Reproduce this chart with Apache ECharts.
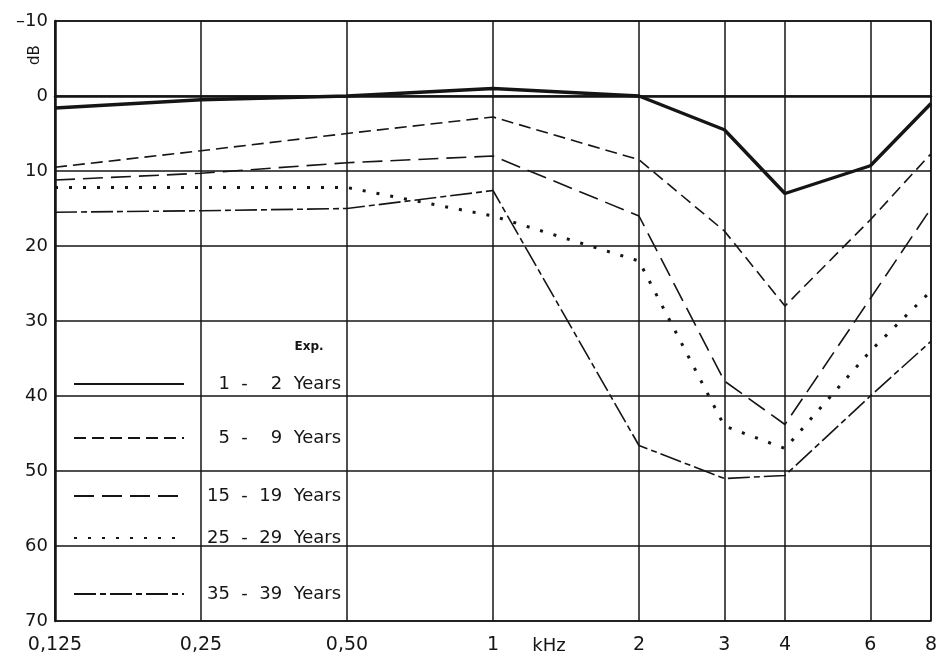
<!DOCTYPE html>
<html>
<head>
<meta charset="utf-8">
<title>Hearing threshold by years of exposure</title>
<script src="https://cdn.jsdelivr.net/npm/echarts@6/dist/echarts.min.js"></script>
<style>
  html, body { margin: 0; padding: 0; background: #ffffff; }
  #chart { width: 940px; height: 655px; }
</style>
</head>
<body>
<div id="chart"></div>
<script>
// Test frequencies (kHz) and their printed labels
const frequencies = [0.125, 0.25, 0.5, 1, 2, 3, 4, 6, 8];
const frequencyLabels = ['0,125', '0,25', '0,50', '1', '2', '3', '4', '6', '8'];

// Hearing level axis (dB), drawn downward
const levelTicks = [-10, 0, 10, 20, 30, 40, 50, 60, 70];
const levelLabels = ['\u201310', '0', '10', '20', '30', '40', '50', '60', '70'];

// Exposure groups (figure spaces keep the single digits in the units column)
const groupNames = [
  '\u20071  -  \u20072  Years',
  '\u20075  -  \u20079  Years',
  '15  -  19  Years',
  '25  -  29  Years',
  '35  -  39  Years'
];

// Mean threshold (dB) per frequency for each exposure group
const exposure1to2 = [1.6, 0.5, 0, -1, 0, 4.5, 13, 9.3, 1];
const exposure5to9 = [9.5, 7.3, 5, 2.8, 8.5, 18, 28, 16.5, 7.7];
const exposure15to19 = [11.2, 10.3, 8.9, 8, 16, 38, 43.8, 27, 15];
const exposure25to29 = [12.2, 12.2, 12.2, 16, 22, 44, 47, 34, 26];
const exposure35to39 = [15.5, 15.3, 15, 12.6, 46.6, 51, 50.6, 40, 32.7];

const groupValues = [exposure1to2, exposure5to9, exposure15to19, exposure25to29, exposure35to39];

const FONT = '"DejaVu Sans", "Liberation Sans", Arial, sans-serif';
const INK = '#151515';

// line look for each group
const groupLineStyles = [
  { width: 3.4, type: 'solid' },
  { width: 1.6, type: [12, 6] },
  { width: 1.6, type: [20, 8] },
  { width: 3, type: [3, 11], cap: 'butt' },
  { width: 1.6, type: [22, 4, 6, 4] }
];

// vertical centre of each legend row
const legendRowY = [383, 437, 495, 537, 593];

function labelFor(list, labels, v) {
  let best = 0;
  for (let i = 0; i < list.length; i++) {
    if (Math.abs(list[i] - v) < Math.abs(list[best] - v)) best = i;
  }
  return labels[best];
}

const series = groupNames.map((name, k) => ({
  name: name,
  type: 'line',
  symbol: 'none',
  silent: true,
  animation: false,
  lineStyle: Object.assign({ color: INK }, groupLineStyles[k]),
  itemStyle: { color: INK },
  data: frequencies.map((f, i) => [f, groupValues[k][i]])
}));

const legends = groupNames.map((name, k) => ({
  data: [name],
  left: 73,
  top: legendRowY[k] - 8,
  orient: 'vertical',
  padding: 0,
  itemWidth: 110,
  itemHeight: 16,
  selectedMode: false,
  itemStyle: { opacity: 0 },
  textStyle: {
    fontFamily: FONT,
    fontSize: 18,
    color: INK,
    padding: [0, 0, 0, 18]
  }
}));

const chart = echarts.init(document.getElementById('chart'), null, { renderer: 'canvas' });

chart.setOption({
  backgroundColor: '#ffffff',
  animation: false,
  grid: {
    left: 55, right: 5, top: 21, bottom: 34,
    show: true,
    borderColor: INK,
    borderWidth: 1.5
  },
  legend: legends,
  xAxis: {
    type: 'log',
    logBase: 2,
    min: 0.125,
    max: 8,
    axisLine: { show: true, lineStyle: { color: INK, width: 2.5 } },
    axisTick: { show: false, customValues: frequencies },
    axisLabel: {
      customValues: frequencies,
      margin: 15,
      fontFamily: FONT,
      fontSize: 19,
      color: INK,
      formatter: v => labelFor(frequencies, frequencyLabels, v)
    },
    splitLine: { show: true, lineStyle: { color: INK, width: 1.5 } }
  },
  yAxis: {
    type: 'value',
    inverse: true,
    min: -10,
    max: 70,
    interval: 10,
    axisLine: { show: true, lineStyle: { color: INK, width: 2.5 } },
    axisTick: { show: false },
    axisLabel: {
      margin: 7,
      fontFamily: FONT,
      fontSize: 18,
      color: INK,
      formatter: v => labelFor(levelTicks, levelLabels, v)
    },
    splitLine: { show: true, lineStyle: { color: INK, width: 1.5 } }
  },
  graphic: [
    {
      type: 'text',
      x: 35, y: 55,
      rotation: Math.PI / 2,
      style: { text: 'dB', fontFamily: FONT, fontSize: 15, fill: INK, align: 'center', verticalAlign: 'middle' }
    },
    {
      type: 'text',
      x: 549, y: 646,
      style: { text: 'kHz', fontFamily: FONT, fontSize: 18, fill: INK, align: 'center', verticalAlign: 'middle' }
    },
    {
      type: 'text',
      x: 309, y: 347,
      style: { text: 'Exp.', fontFamily: FONT, fontSize: 12, fontWeight: 'bold', fill: INK, align: 'center', verticalAlign: 'middle' }
    }
  ],
  series: series
});
</script>
</body>
</html>
